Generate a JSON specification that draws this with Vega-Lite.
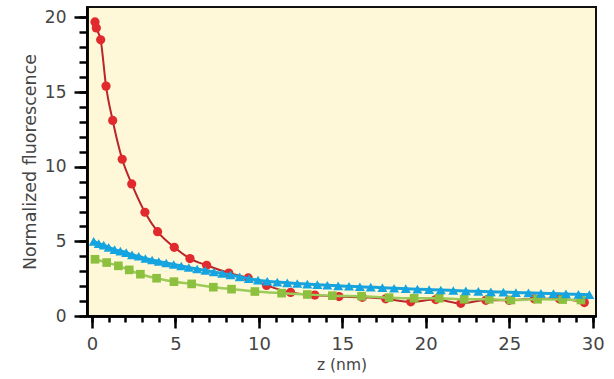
{
  "$schema": "https://vega.github.io/schema/vega-lite/v6.json",
  "width": 509,
  "height": 309,
  "autosize": {"type": "none"},
  "padding": {"left": 87, "top": 7, "right": 18, "bottom": 63},
  "background": "white",
  "config": {
    "view": {"fill": "#FEF8D8", "stroke": "#111", "strokeWidth": 2},
    "axis": {
      "domainColor": "#000", "domainWidth": 2.5, "ticks": true, "tickColor": "#000", "tickWidth": 2.5, "tickOpacity": 1,
      "labelFont": "DejaVu Sans", "labelFontSize": 17, "labelColor": "#444",
      "titleFont": "DejaVu Sans", "titleFontWeight": "normal", "titleColor": "#444",
      "grid": false, "zindex": 2
    }
  },
  "datasets": {
    "red": [
      {"z": 0.18, "f": 19.7}, {"z": 0.26, "f": 19.3}, {"z": 0.52, "f": 18.5}, {"z": 0.84, "f": 15.4},
      {"z": 1.24, "f": 13.1}, {"z": 1.81, "f": 10.5}, {"z": 2.38, "f": 8.85}, {"z": 3.17, "f": 6.95},
      {"z": 3.93, "f": 5.65}, {"z": 4.93, "f": 4.6}, {"z": 5.87, "f": 3.85}, {"z": 6.87, "f": 3.4},
      {"z": 8.2, "f": 2.88}, {"z": 9.36, "f": 2.55}, {"z": 10.46, "f": 2.05}, {"z": 11.9, "f": 1.58},
      {"z": 13.35, "f": 1.4}, {"z": 14.8, "f": 1.3}, {"z": 16.2, "f": 1.25}, {"z": 17.6, "f": 1.15},
      {"z": 19.1, "f": 0.95}, {"z": 20.6, "f": 1.1}, {"z": 22.1, "f": 0.85}, {"z": 23.6, "f": 1.05},
      {"z": 25.0, "f": 1.05}, {"z": 26.5, "f": 1.15}, {"z": 28.0, "f": 1.15}, {"z": 29.5, "f": 0.9}
    ],
    "green": [
      {"z": 0.18, "f": 3.8}, {"z": 0.88, "f": 3.58}, {"z": 1.58, "f": 3.36}, {"z": 2.23, "f": 3.09},
      {"z": 2.9, "f": 2.8}, {"z": 3.87, "f": 2.53}, {"z": 4.91, "f": 2.3}, {"z": 5.97, "f": 2.15},
      {"z": 7.27, "f": 1.93}, {"z": 8.36, "f": 1.8}, {"z": 9.76, "f": 1.64}, {"z": 11.36, "f": 1.53},
      {"z": 12.9, "f": 1.44}, {"z": 14.4, "f": 1.36}, {"z": 16.15, "f": 1.33}, {"z": 17.8, "f": 1.23},
      {"z": 19.3, "f": 1.19}, {"z": 20.8, "f": 1.19}, {"z": 22.3, "f": 1.12}, {"z": 23.8, "f": 1.12},
      {"z": 25.1, "f": 1.07}, {"z": 26.7, "f": 1.12}, {"z": 28.2, "f": 1.1}, {"z": 29.3, "f": 1.07}
    ],
    "blue": [
      {"z": 0.1, "f": 5.0}, {"z": 0.4, "f": 4.85}, {"z": 0.7, "f": 4.75}, {"z": 1.0, "f": 4.6},
      {"z": 1.35, "f": 4.45}, {"z": 1.7, "f": 4.35}, {"z": 2.05, "f": 4.25}, {"z": 2.4, "f": 4.1},
      {"z": 2.8, "f": 4.0}, {"z": 3.2, "f": 3.85}, {"z": 3.6, "f": 3.75}, {"z": 4.0, "f": 3.65},
      {"z": 4.45, "f": 3.55}, {"z": 4.9, "f": 3.45}, {"z": 5.35, "f": 3.35}, {"z": 5.8, "f": 3.25},
      {"z": 6.3, "f": 3.15}, {"z": 6.8, "f": 3.05}, {"z": 7.3, "f": 2.95}, {"z": 7.8, "f": 2.85},
      {"z": 8.3, "f": 2.75}, {"z": 8.85, "f": 2.62}, {"z": 9.4, "f": 2.5}, {"z": 9.95, "f": 2.4},
      {"z": 10.5, "f": 2.33}, {"z": 11.1, "f": 2.27}, {"z": 11.7, "f": 2.22}, {"z": 12.3, "f": 2.18},
      {"z": 12.9, "f": 2.14}, {"z": 13.5, "f": 2.1}, {"z": 14.1, "f": 2.06}, {"z": 14.75, "f": 2.02},
      {"z": 15.4, "f": 1.99}, {"z": 16.05, "f": 1.96}, {"z": 16.7, "f": 1.93}, {"z": 17.4, "f": 1.9},
      {"z": 18.1, "f": 1.86}, {"z": 18.8, "f": 1.83}, {"z": 19.5, "f": 1.8}, {"z": 20.2, "f": 1.77},
      {"z": 20.9, "f": 1.74}, {"z": 21.65, "f": 1.71}, {"z": 22.4, "f": 1.68}, {"z": 23.15, "f": 1.65},
      {"z": 23.9, "f": 1.62}, {"z": 24.65, "f": 1.6}, {"z": 25.4, "f": 1.57}, {"z": 26.15, "f": 1.55},
      {"z": 26.9, "f": 1.52}, {"z": 27.65, "f": 1.5}, {"z": 28.4, "f": 1.48}, {"z": 29.15, "f": 1.45},
      {"z": 29.8, "f": 1.43}
    ]
  },
  "resolve": {"scale": {"x": "shared", "y": "shared"}, "axis": {"x": "independent", "y": "independent"}},
  "layer": [
    {
      "data": {"name": "red"},
      "mark": {"type": "line", "color": "#B8262A", "strokeWidth": 2, "interpolate": "monotone"},
      "encoding": {
        "x": {"field": "z", "type": "quantitative", "scale": {"domain": [-0.3, 30.2], "nice": false, "zero": false},
          "axis": {"orient": "bottom", "title": null, "labels": false, "tickSize": 6,
            "values": [0,1,2,3,4,5,6,7,8,9,10,11,12,13,14,15,16,17,18,19,20,21,22,23,24,25,26,27,28,29,30]}},
        "y": {"field": "f", "type": "quantitative", "scale": {"domain": [0, 20.7], "nice": false},
          "axis": {"orient": "left", "title": null, "labels": false, "tickSize": 8,
            "values": [0,1,2,3,4,5,6,7,8,9,10,11,12,13,14,15,16,17,18,19,20]}}
      }
    },
    {
      "data": {"name": "red"},
      "mark": {"type": "point", "shape": "circle", "filled": true, "color": "#E12A2E", "size": 85, "opacity": 1},
      "encoding": {
        "x": {"field": "z", "type": "quantitative",
          "axis": {"orient": "bottom", "title": "z (nm)", "titleFontSize": 15.5, "labelFontSize": 18,
            "values": [0,5,10,15,20,25,30], "tickSize": 12, "labelPadding": 7, "titlePadding": 4, "labelFlush": false}},
        "y": {"field": "f", "type": "quantitative",
          "axis": {"orient": "left", "title": "Normalized fluorescence", "titleFontSize": 17.5,
            "values": [0,5,10,15,20], "tickSize": 13, "labelPadding": 8, "titlePadding": 5}}
      }
    },
    {
      "data": {"name": "green"},
      "mark": {"type": "line", "color": "#9CCB5A", "strokeWidth": 2.5, "interpolate": "monotone"},
      "encoding": {"x": {"field": "z", "type": "quantitative", "axis": null}, "y": {"field": "f", "type": "quantitative", "axis": null}}
    },
    {
      "data": {"name": "green"},
      "mark": {"type": "point", "shape": "square", "filled": true, "color": "#8DC03F", "size": 75, "opacity": 1},
      "encoding": {"x": {"field": "z", "type": "quantitative", "axis": null}, "y": {"field": "f", "type": "quantitative", "axis": null}}
    },
    {
      "data": {"name": "blue"},
      "mark": {"type": "line", "color": "#1AA3DD", "strokeWidth": 3, "interpolate": "monotone"},
      "encoding": {"x": {"field": "z", "type": "quantitative", "axis": null}, "y": {"field": "f", "type": "quantitative", "axis": null}}
    },
    {
      "data": {"name": "blue"},
      "mark": {"type": "point", "shape": "triangle-up", "filled": true, "color": "#14A4E0", "size": 100, "opacity": 1},
      "encoding": {"x": {"field": "z", "type": "quantitative", "axis": null}, "y": {"field": "f", "type": "quantitative", "axis": null}}
    }
  ]
}
